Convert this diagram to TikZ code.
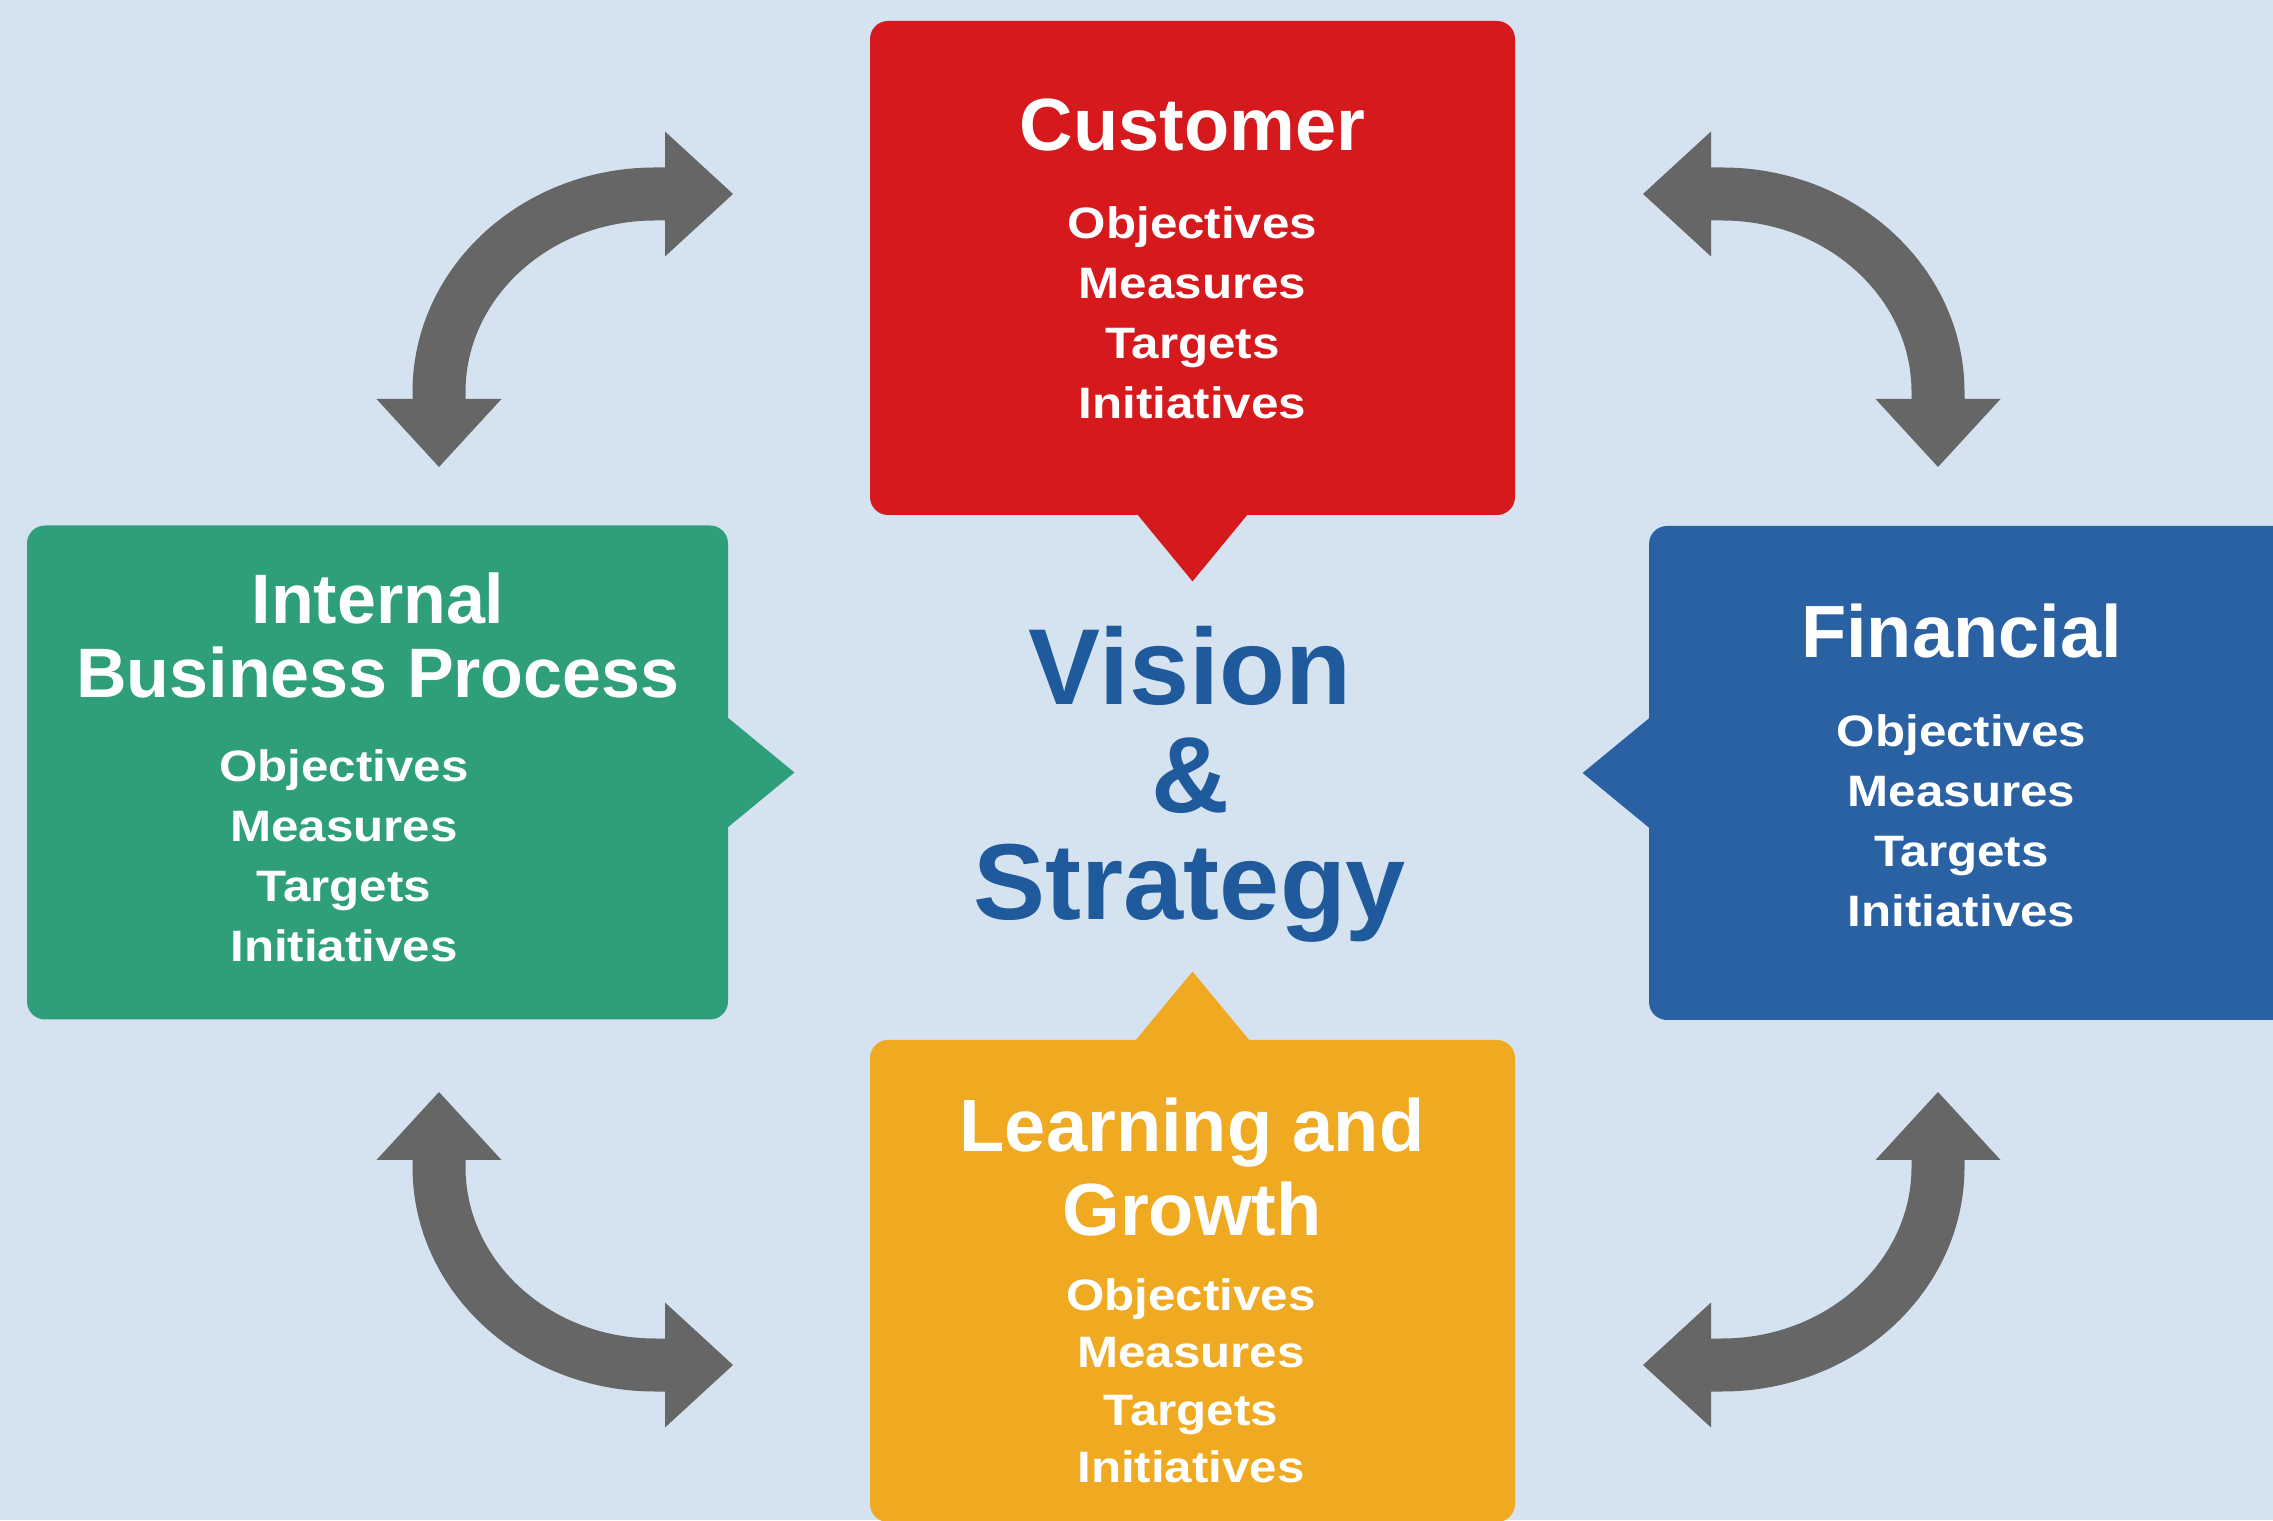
\documentclass[tikz,border=0pt]{standalone}
\usepackage{fontspec}
\setmainfont{Liberation Sans}
\newfontfamily\itemfont{Liberation Sans}[FakeStretch=1.12]
\usetikzlibrary{arrows.meta}
\definecolor{bgblue}{HTML}{D5E2EF}
\definecolor{custred}{HTML}{D6191C}
\definecolor{ibpgreen}{HTML}{2E9E7B}
\definecolor{finblue}{HTML}{2A61A3}
\definecolor{lrngold}{HTML}{EFAA22}
\definecolor{visionblue}{HTML}{1E5A9C}
\definecolor{arrowgray}{HTML}{666666}
\tikzset{x=0.5pt, y=0.5pt, % one unit is one pixel of the picture
card/.style={rounded corners=9pt, inner sep=0pt, minimum height=247pt}, % the coloured boxes
head/.style={text=white, align=center, font=\bfseries\fontsize{37}{37}\selectfont}, % box titles
items/.style={text=white, align=center, font=\itemfont\bfseries\fontsize{22}{30}\selectfont}, % the four lines
twoway/.style={draw=arrowgray, line width=26.5pt,
  {Triangle[width=62.5pt, length=34pt, line width=0pt]}-{Triangle[width=62.5pt, length=34pt, line width=0pt]}}, % curved double arrows
}
\begin{document}
\begin{tikzpicture}
    \clip (0,0) rectangle (2273,1520);
    \fill[bgblue] (0,0) rectangle (2273,1520);
    % the four perspectives
    \node[card, fill=custred, minimum width=322.5pt] (cust) at (1192.5,1252) {};
    \fill[custred] ([xshift=-28pt,yshift=1pt]cust.south) -- ++(28pt,-34pt) -- ([xshift=28pt,yshift=1pt]cust.south) -- cycle;
    \node[card, fill=ibpgreen, minimum width=350.5pt] (ibp) at (377.5,747.5) {};
    \fill[ibpgreen] ([xshift=-1pt,yshift=28pt]ibp.east) -- ++(34pt,-28pt) -- ([xshift=-1pt,yshift=-28pt]ibp.east) -- cycle;
    \node[card, fill=finblue, minimum width=330.5pt] (fin) at (1979.5,747) {};
    \fill[finblue] ([xshift=1pt,yshift=28pt]fin.west) -- ++(-34pt,-28pt) -- ([xshift=1pt,yshift=-28pt]fin.west) -- cycle;
    \node[card, fill=lrngold, minimum width=322.5pt, minimum height=241pt] (lrn) at (1192.5,239) {};
    \fill[lrngold] ([xshift=-29pt,yshift=-1pt]lrn.north) -- ++(29pt,35pt) -- ([xshift=29pt,yshift=-1pt]lrn.north) -- cycle;

    % texts (base = baseline of the last line)
    \node[head, anchor=base] (custT) at (1192.5,1369) {Customer};
    \node[items, anchor=base] (custL) at (1192.5,1101) {Objectives\\Measures\\Targets\\Initiatives};
    \node[head, anchor=base, font=\bfseries\fontsize{35}{37}\selectfont] (ibpT) at (378,822) {Internal\\Business Process};
    \node[items, anchor=base] (ibpL) at (344,558.5) {Objectives\\Measures\\Targets\\Initiatives};
    \node[head, anchor=base] (finT) at (1961.5,862) {Financial};
    \node[items, anchor=base] (finL) at (1961.5,593) {Objectives\\Measures\\Targets\\Initiatives};
    \node[head, anchor=base, font=\bfseries\fontsize{37}{41.5}\selectfont] (lrnT) at (1192,285) {Learning and\\Growth};
    \node[items, anchor=base, font=\itemfont\bfseries\fontsize{22}{28.75}\selectfont] (lrnL) at (1191,37.5) {Objectives\\Measures\\Targets\\Initiatives};
    \node[anchor=base, align=center, text=visionblue, font=\bfseries\fontsize{54}{53.75}\selectfont] (vision) at (1190,600) {Vision\\\&\\Strategy};

    % arrows between the boxes
    \coordinate (ulA) at (439,1053);
    \coordinate (ulB) at (733,1326);
    \coordinate (urA) at (1938,1053);
    \coordinate (urB) at (1643,1326);
    \coordinate (llA) at (439,428);
    \coordinate (llB) at (733,155);
    \coordinate (lrA) at (1938,428);
    \coordinate (lrB) at (1643,155);
    \draw[twoway] (ulA) -- ++(0,75) arc[start angle=180, end angle=90, x radius=216, y radius=198] -- (ulB);
    \draw[twoway] (urA) -- ++(0,75) arc[start angle=0, end angle=90, x radius=216, y radius=198] -- (urB);
    \draw[twoway] (llA) -- ++(0,-75) arc[start angle=180, end angle=270, x radius=216, y radius=198] -- (llB);
    \draw[twoway] (lrA) -- ++(0,-75) arc[start angle=0, end angle=-90, x radius=216, y radius=198] -- (lrB);
  \end{tikzpicture}
\end{document}
